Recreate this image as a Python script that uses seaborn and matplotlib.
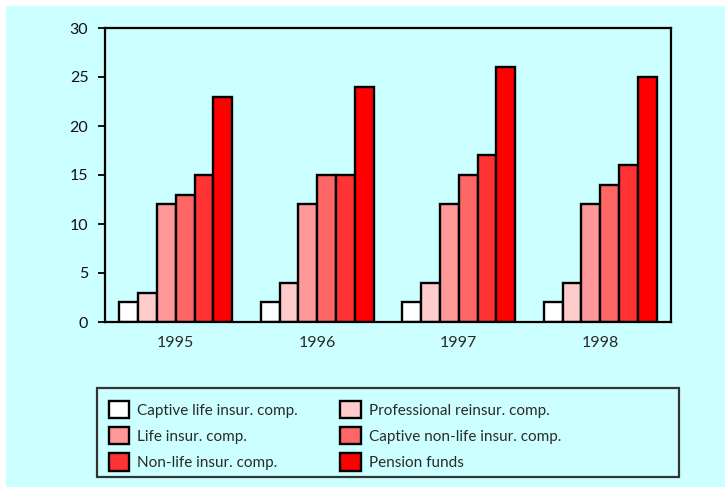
import matplotlib
matplotlib.use("Agg")
import matplotlib.pyplot as plt
from matplotlib.patches import Rectangle
import pandas as pd
import seaborn as sns

years = ["1995", "1996", "1997", "1998"]
categories = [
    "Captive life insur. comp.",
    "Professional reinsur. comp.",
    "Life insur. comp.",
    "Captive non-life insur. comp.",
    "Non-life insur. comp.",
    "Pension funds",
]
values = {
    "Captive life insur. comp.":     [2, 2, 2, 2],
    "Professional reinsur. comp.":   [3, 4, 4, 4],
    "Life insur. comp.":             [12, 12, 12, 12],
    "Captive non-life insur. comp.": [13, 15, 15, 14],
    "Non-life insur. comp.":         [15, 15, 17, 16],
    "Pension funds":                 [23, 24, 26, 25],
}
colors = ["#ffffff", "#ffcccc", "#ff9999", "#ff6666", "#ff3333", "#ff0000"]
y_ticks = [0, 5, 10, 15, 20, 25, 30]

rows = []
for cat in categories:
    for yr, v in zip(years, values[cat]):
        rows.append({"year": yr, "type": cat, "value": v})
df = pd.DataFrame(rows)

bg = "#ccffff"
sns.set_theme(style="white")
plt.rcParams["font.family"] = ["Lato", "DejaVu Sans"]
plt.rcParams["text.color"] = "#2a2a2a"
plt.rcParams["xtick.color"] = "#2a2a2a"
plt.rcParams["ytick.color"] = "#111111"

W, H = 725, 487
fig = plt.figure(figsize=(W / 100, H / 100), dpi=100)
fig.patch.set_facecolor("white")
# cyan page background, leaving a thin white margin on top and left
fig.patches.append(Rectangle((6 / W, 0), 1, 1 - 6 / H, transform=fig.transFigure,
                             facecolor=bg, edgecolor="none", zorder=-10))

ax = fig.add_axes([105 / W, 1 - 322 / H, (671 - 105) / W, (322 - 28) / H])
ax.set_facecolor(bg)

sns.barplot(data=df, x="year", y="value", hue="type", hue_order=categories,
            order=years, palette=colors, edgecolor="black", linewidth=1.7,
            width=0.8, saturation=1, ax=ax)

ax.set_ylim(0, 30)
ax.set_yticks(y_ticks)
ax.set_xlabel("")
ax.set_ylabel("")
for s in ax.spines.values():
    s.set_visible(True)
    s.set_color("black")
    s.set_linewidth(1.6)
ax.tick_params(axis="y", direction="out", length=5, width=1.4, pad=7,
               labelsize=11.5, left=True)
ax.tick_params(axis="x", length=0, pad=10, labelsize=11.5)

handles, labels = ax.get_legend_handles_labels()
ax.get_legend().remove()
order = [0, 2, 4, 1, 3, 5]
leg = fig.legend([handles[i] for i in order], [labels[i] for i in order],
                 ncol=2, loc="upper left",
                 bbox_to_anchor=(101 / W, 1 - 393 / H),
                 frameon=False, fontsize=11,
                 handlelength=1.35, handleheight=1.4, handletextpad=0.5,
                 labelspacing=0.56, columnspacing=2.8, borderpad=0)
for h in leg.legend_handles:
    h.set_edgecolor("black")
    h.set_linewidth(1.7)

# legend frame
fig.patches.append(Rectangle((97 / W, 1 - 477 / H), (679 - 97) / W, (477 - 388) / H,
                             transform=fig.transFigure, facecolor="none",
                             edgecolor="#333333", linewidth=1.6, zorder=5))

fig.savefig("out.png", dpi=100, facecolor=fig.get_facecolor())
